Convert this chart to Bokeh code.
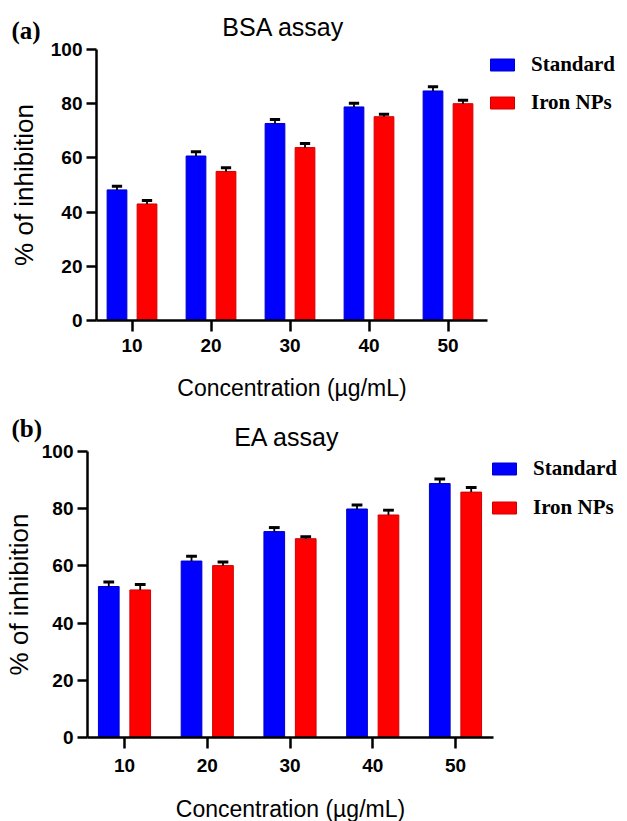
from bokeh.plotting import figure
from bokeh.models import (Range1d, FixedTicker, Legend, LegendItem, Label, ColumnDataSource)
from bokeh.transform import dodge
from bokeh.layouts import column
from bokeh.embed import file_html
from bokeh.resources import INLINE

# ---------------- data ----------------
concentrations = ["10", "20", "30", "40", "50"]
y_ticks = [0, 20, 40, 60, 80, 100]
series_names = ["Standard", "Iron NPs"]
panel_letters = ["(a)", "(b)"]
panel_titles = ["BSA assay", "EA assay"]

bsa_standard = [48.2, 60.7, 72.7, 78.8, 84.7]
bsa_standard_err = [1.3, 1.6, 1.5, 1.4, 1.6]
bsa_iron = [43.0, 55.0, 63.8, 75.2, 80.0]
bsa_iron_err = [1.3, 1.4, 1.5, 0.9, 1.3]

ea_standard = [52.8, 61.7, 72.0, 79.9, 88.8]
ea_standard_err = [1.6, 1.7, 1.4, 1.4, 1.6]
ea_iron = [51.6, 60.1, 69.5, 77.8, 85.8]
ea_iron_err = [1.9, 1.3, 0.7, 1.7, 1.6]

BLUE = "#0000FF"
RED = "#FF0000"
SANS = "Liberation Sans"
SERIF = "Liberation Serif"
W = 627


def make_panel(letter, title, std, std_err, iron, iron_err, height, g):
    # g: pixel geometry of the panel (canvas coordinates)
    ppu = (g["y0"] - g["y100"]) / 100.0

    def px_x(px):
        return (px - g["x_first"]) / g["x_step"]

    def px_y(py):
        return (g["y0"] - py) / ppu

    pos = list(range(len(concentrations)))
    src = ColumnDataSource(dict(
        pos=pos,
        std=std,
        std_top=[v + e for v, e in zip(std, std_err)],
        iron=iron,
        iron_top=[v + e for v, e in zip(iron, iron_err)],
    ))
    p = figure(width=W, height=height,
               x_range=Range1d(px_x(0), px_x(W)),
               y_range=Range1d(px_y(height), px_y(0)),
               output_backend="svg", toolbar_location=None, min_border=0)
    p.outline_line_color = None
    p.xgrid.visible = False
    p.ygrid.visible = False
    p.background_fill_color = "white"
    p.border_fill_color = "white"

    off = 0.19
    bw = 0.25
    cap = 0.065
    r_std = p.vbar(x=dodge("pos", -off), top="std", width=bw, source=src,
                   fill_color=BLUE, line_color="#0000c8", line_width=1)
    r_iron = p.vbar(x=dodge("pos", off), top="iron", width=bw, source=src,
                    fill_color=RED, line_color="#d00000", line_width=1)
    for o, lo, hi in ((-off, "std", "std_top"), (off, "iron", "iron_top")):
        p.segment(x0=dodge("pos", o), y0=lo, x1=dodge("pos", o), y1=hi,
                  source=src, line_color="black", line_width=1.8)
        p.segment(x0=dodge("pos", o - cap), y0=hi, x1=dodge("pos", o + cap), y1=hi,
                  source=src, line_color="black", line_width=3)

    for ax in (p.xaxis[0], p.yaxis[0]):
        ax.axis_line_width = 2.5
        ax.axis_line_color = "black"
        ax.major_tick_line_width = 2.5
        ax.major_tick_line_color = "black"
        ax.major_tick_in = 0
        ax.minor_tick_line_color = None
        ax.major_label_text_font = SANS
        ax.major_label_text_font_style = "bold"
        ax.major_label_text_font_size = "19px"
        ax.major_label_text_color = "black"
        ax.axis_label_text_font = SANS
        ax.axis_label_text_font_style = "normal"
        ax.axis_label_text_color = "black"

    y_axis_x = px_x(g["axis_left"])
    p.yaxis.fixed_location = y_axis_x
    p.yaxis.bounds = (0, 100)
    p.yaxis.ticker = FixedTicker(ticks=y_ticks)
    p.yaxis.major_tick_out = 10
    p.yaxis.major_label_standoff = 4
    p.yaxis.axis_label = "% of inhibition"
    p.yaxis.axis_label_text_font_size = "26px"
    p.yaxis.axis_label_standoff = g["y_lab_std"]

    p.xaxis.fixed_location = 0
    p.xaxis.bounds = (y_axis_x, px_x(g["axis_right"]))
    p.xaxis.ticker = FixedTicker(ticks=pos)
    p.xaxis.major_label_overrides = {i: c for i, c in zip(pos, concentrations)}
    p.xaxis.major_tick_out = 11
    p.xaxis.major_label_standoff = g["x_std"]
    p.xaxis.axis_label = "Concentration (\u00b5g/mL)"
    p.xaxis.axis_label_text_font_size = "23px"
    p.xaxis.axis_label_standoff = g["x_lab_std"]

    p.add_layout(Label(x=px_x(g["title_cx"]), y=px_y(g["title_cy"]), text=title,
                       text_align="center", text_baseline="middle",
                       text_font=SANS, text_font_size="25px", text_color="black"))
    p.add_layout(Label(x=px_x(11), y=px_y(g["letter_cy"]), text=letter,
                       text_align="left", text_baseline="middle",
                       text_font=SERIF, text_font_style="bold", text_font_size="25px",
                       text_color="black"))

    leg_h = 30 + g["leg_spacing"] + 30
    legend = Legend(items=[LegendItem(label=series_names[0], renderers=[r_std]),
                           LegendItem(label=series_names[1], renderers=[r_iron])],
                    location=(g["leg_x"], height - g["leg_top"] - leg_h),
                    orientation="vertical",
                    glyph_width=30, glyph_height=15, label_height=30,
                    label_standoff=14, spacing=g["leg_spacing"], padding=0, margin=0,
                    border_line_color=None, background_fill_alpha=0,
                    label_text_font=SERIF, label_text_font_style="bold",
                    label_text_font_size="21px", label_text_color="black")
    p.add_layout(legend)
    return p


top = make_panel(panel_letters[0], panel_titles[0],
                 bsa_standard, bsa_standard_err, bsa_iron, bsa_iron_err, 413,
                 dict(x_first=131.5, x_step=79.0, y100=49, y0=320,
                      axis_left=96, axis_right=487,
                      x_std=7, x_lab_std=20, y_lab_std=9,
                      title_cx=283, title_cy=26, letter_cy=30,
                      leg_x=487, leg_top=49, leg_spacing=8))
bottom = make_panel(panel_letters[1], panel_titles[1],
                    ea_standard, ea_standard_err, ea_iron, ea_iron_err, 408,
                    dict(x_first=124.0, x_step=82.75, y100=38, y0=324,
                         axis_left=87, axis_right=493,
                         x_std=10, x_lab_std=21, y_lab_std=5,
                         title_cx=286.5, title_cy=23, letter_cy=15,
                         leg_x=489, leg_top=40, leg_spacing=9))

layout = column(top, bottom, spacing=0)
open("out.html", "w").write(file_html(layout, INLINE))
